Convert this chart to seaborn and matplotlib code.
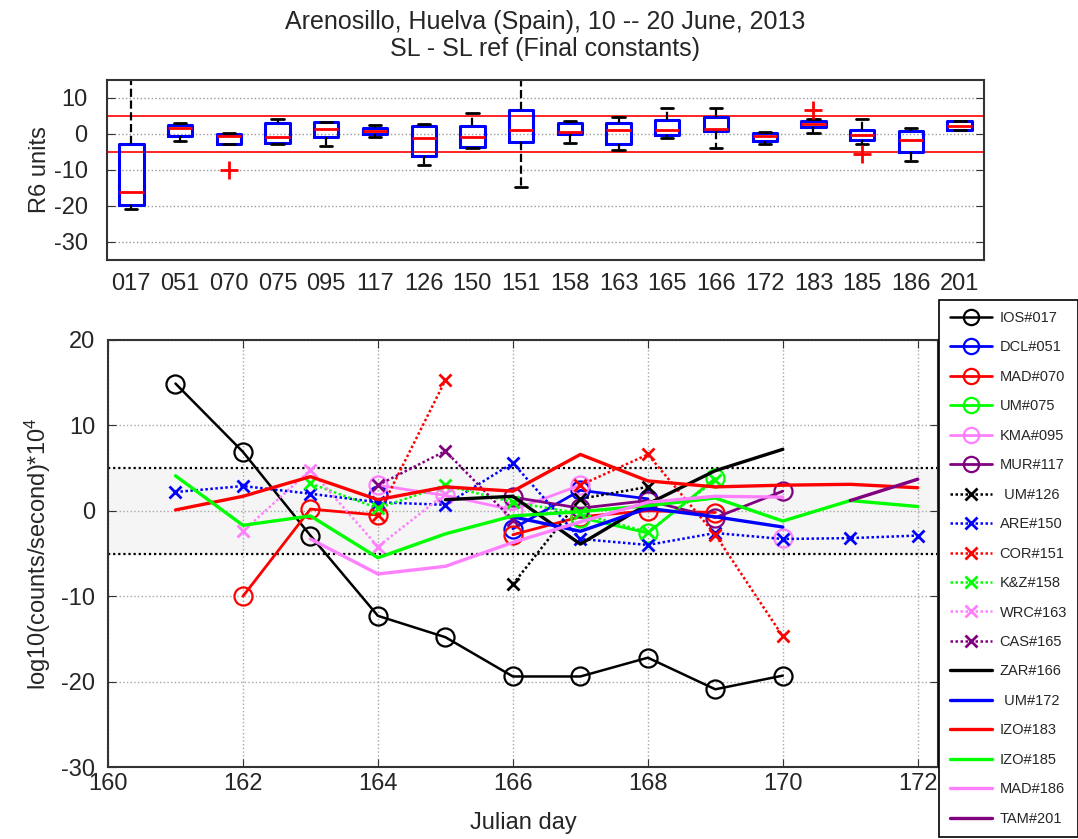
import numpy as np
import pandas as pd
import matplotlib
matplotlib.use("Agg")
import matplotlib.pyplot as plt
import seaborn as sns

# ---------------- data: top box plot ----------------
codes = ['017', '051', '070', '075', '095', '117', '126', '150', '151',
         '158', '163', '165', '166', '172', '183', '185', '186', '201']
box_q1 = [-19.6, -0.5, -2.7, -2.5, -0.8, 0.1, -6.1, -3.6, -2.1,
          0.1, -2.8, -0.3, 0.8, -2.0, 2.0, -1.6, -4.9, 1.0]
box_med = [-16.1, 1.6, -0.6, -0.7, 1.4, 0.9, -1.1, -0.8, 1.2,
           0.5, 1.0, 1.2, 1.4, -0.6, 2.9, -0.4, -1.8, 2.2]
box_q3 = [-2.9, 2.4, 0.1, 3.0, 3.2, 1.8, 2.1, 2.2, 6.6,
          3.1, 3.1, 3.9, 4.6, 0.4, 3.5, 1.0, 0.7, 3.5]
box_lo = [-20.8, -2.0, -2.9, -2.9, -3.3, -0.8, -8.7, -4.0, -14.6,
          -2.5, -4.4, -1.1, -4.0, -2.7, 0.3, -2.9, -7.5, 1.0]
box_hi = [22.0, 3.0, 0.3, 4.1, 3.2, 2.6, 2.9, 5.9, 22.0,
          3.6, 4.7, 7.2, 7.2, 0.6, 4.1, 4.1, 1.7, 3.5]
box_fliers = {'070': [-10.0], '183': [6.6], '185': [-5.5]}

# ---------------- data: bottom time series ----------------
nan = np.nan
days = [161, 162, 163, 164, 165, 166, 167, 168, 169, 170, 171, 172]
IOS017 = [14.9, 6.9, -2.9, -12.3, -14.8, -19.4, -19.4, -17.2, -20.9, -19.3, nan, nan]
DCL051 = [nan, nan, nan, 1.8, nan, -2.1, 2.4, 1.4, nan, nan, nan, nan]
MAD070 = [nan, -10.0, 0.2, -0.5, nan, -2.8, -0.7, 0.0, -0.2, nan, nan, nan]
UM075 = [nan, nan, nan, nan, nan, nan, -0.8, -2.6, 3.8, nan, nan, nan]
KMA095 = [nan, nan, nan, 3.0, 1.8, 0.1, 3.0, nan, nan, -3.2, nan, nan]
MUR117 = [nan, nan, nan, nan, nan, 1.6, 0.3, 1.2, -0.8, 2.3, nan, nan]
UM126 = [nan, nan, nan, nan, nan, -8.6, 1.4, 2.8, nan, nan, nan, nan]
ARE150 = [2.2, 2.9, 2.0, 1.0, 0.7, 5.6, -3.3, -4.0, -2.6, -3.3, -3.2, -2.9]
COR151 = [nan, nan, nan, -0.5, 15.3, nan, 3.0, 6.6, -2.8, -14.7, nan, nan]
KZ158 = [nan, nan, 3.2, 0.3, 3.0, 1.0, -0.3, -2.5, 3.6, nan, nan, nan]
WRC163 = [nan, -2.4, 4.8, -4.2, 2.0, nan, nan, nan, nan, nan, nan, nan]
CAS165 = [nan, nan, nan, 3.0, 7.0, -1.1, nan, nan, nan, nan, nan, nan]
ZAR166 = [nan, nan, nan, nan, 1.3, 1.7, -3.9, 0.8, 4.7, 7.2, nan, nan]
UM172 = [nan, nan, nan, nan, nan, -0.7, -2.4, 0.3, -0.7, -1.9, nan, nan]
IZO183 = [0.1, 1.7, 4.0, 1.3, 2.8, 2.3, 6.6, 3.5, 2.8, 3.0, 3.1, 2.7]
IZO185 = [4.1, -1.7, -0.6, -5.5, -2.7, -0.6, -0.1, 0.6, 1.5, -1.2, 1.2, 0.5]
MAD186 = [nan, nan, -3.3, -7.4, -6.5, -3.7, -1.3, 1.0, 1.7, 1.6, nan, nan]
TAM201 = [nan, nan, nan, nan, nan, nan, nan, nan, nan, nan, 1.2, 3.7]

BLACK, BLUE, RED, GREEN, PINK, PURPLE = 'black', '#0000ff', '#ff0000', '#00ff00', '#ff80ff', '#800080'

series = [
    ('IOS#017', IOS017, BLACK, 'circ'),
    ('DCL#051', DCL051, BLUE, 'circ'),
    ('MAD#070', MAD070, RED, 'circ'),
    ('UM#075', UM075, GREEN, 'circ'),
    ('KMA#095', KMA095, PINK, 'circ'),
    ('MUR#117', MUR117, PURPLE, 'circ'),
    (' UM#126', UM126, BLACK, 'x'),
    ('ARE#150', ARE150, BLUE, 'x'),
    ('COR#151', COR151, RED, 'x'),
    ('K&Z#158', KZ158, GREEN, 'x'),
    ('WRC#163', WRC163, PINK, 'x'),
    ('CAS#165', CAS165, PURPLE, 'x'),
    ('ZAR#166', ZAR166, BLACK, 'line'),
    (' UM#172', UM172, BLUE, 'line'),
    ('IZO#183', IZO183, RED, 'line'),
    ('IZO#185', IZO185, GREEN, 'line'),
    ('MAD#186', MAD186, PINK, 'line'),
    ('TAM#201', TAM201, PURPLE, 'line'),
]

# ---------------- style ----------------
sns.set_style("white")
plt.rcParams['font.family'] = ['Liberation Sans', 'DejaVu Sans']
plt.rcParams['mathtext.fontset'] = 'custom'
plt.rcParams['mathtext.rm'] = 'Liberation Sans'
plt.rcParams['mathtext.it'] = 'Liberation Sans'
plt.rcParams['axes.unicode_minus'] = False

fig = plt.figure(figsize=(10.78, 8.39), dpi=100)
ax1 = fig.add_axes([107 / 1078, 1 - 260 / 839, 877 / 1078, 180 / 839])
ax2 = fig.add_axes([108 / 1078, 1 - 767 / 839, 830 / 1078, 427 / 839])

FRAME = '#333333'

# ---------------- top: box plot ----------------
stats = []
for i, c in enumerate(codes):
    stats.append(dict(label=c, q1=box_q1[i], med=box_med[i], q3=box_q3[i],
                      whislo=box_lo[i], whishi=box_hi[i],
                      fliers=box_fliers.get(c, [])))
ax1.bxp(stats, positions=range(1, len(codes) + 1), widths=0.5, capwidths=0.25,
        boxprops=dict(color=BLUE, lw=2.2),
        medianprops=dict(color=RED, lw=2),
        whiskerprops=dict(color='black', lw=1.6, ls='--'),
        capprops=dict(color='black', lw=2),
        flierprops=dict(marker='+', markeredgecolor=RED, markersize=13, mew=2, linestyle='none'))
ax1.axhline(5, color=RED, lw=1.2, zorder=1)
ax1.axhline(-5, color=RED, lw=1.2, zorder=1)
ax1.set_xlim(0.5, len(codes) + 0.5)
ax1.set_ylim(-35, 15)
ax1.set_yticks([-30, -20, -10, 0, 10])
ax1.set_xticks(range(1, len(codes) + 1))
ax1.set_xticklabels(codes)
ax1.yaxis.grid(True, ls=':', color='0.6', lw=1)
ax1.xaxis.grid(False)
ax1.set_axisbelow(True)
ax1.tick_params(axis='x', length=0, labelsize=17, pad=9)
ax1.tick_params(axis='y', direction='in', left=True, right=True, length=6,
                labelsize=17, pad=14, color=FRAME)
for s in ax1.spines.values():
    s.set_color(FRAME)
    s.set_linewidth(1.5)
ax1.set_ylabel('R6 units', fontsize=17)
ax1.yaxis.set_label_coords(-0.064, 0.5)
ax1.set_title('Arenosillo, Huelva (Spain), 10 -- 20 June, 2013\nSL - SL ref (Final constants)',
              fontsize=18, pad=17, linespacing=1.2)

# ---------------- bottom: time series ----------------
ax2.axhspan(-5, 5, color='#f5f5f5', zorder=0)
ax2.axhline(5, color='black', ls=(0, (1, 1.3)), lw=1.6, zorder=1)
ax2.axhline(-5, color='black', ls=(0, (1, 1.3)), lw=1.6, zorder=1)

d = np.array(days, dtype=float)
for label, vals, color, kind in series:
    v = np.array(vals, dtype=float)
    ok = ~np.isnan(v)
    runs, cur = [], []
    for i in range(len(v)):
        if ok[i]:
            cur.append(i)
        elif cur:
            runs.append(cur)
            cur = []
    if cur:
        runs.append(cur)
    if kind == 'circ':
        kw = dict(linestyle='-', lw=2 if color != BLACK else 1.8, marker='o', markersize=13,
                  markerfacecolor='none', markeredgecolor=color, markeredgewidth=1.6)
    elif kind == 'x':
        kw = dict(linestyle=(0, (1, 1)), lw=1.8, marker='x', markersize=9,
                  markerfacecolor='none', markeredgecolor=color, markeredgewidth=2)
    else:
        kw = dict(linestyle='-', lw=2.4, marker=None)
    for k, r in enumerate(runs):
        sns.lineplot(x=d[r], y=v[r], ax=ax2, color=color, errorbar=None, legend=False,
                     label=label if k == 0 else '_nolegend_', zorder=3, **kw)

ax2.set_xlim(160, 172.3)
ax2.set_ylim(-30, 20)
ax2.set_xticks([160, 162, 164, 166, 168, 170, 172])
ax2.set_yticks([-30, -20, -10, 0, 10, 20])
ax2.grid(True, ls=':', color='0.65', lw=1)
ax2.set_axisbelow(True)
ax2.tick_params(axis='both', direction='in', top=True, right=True, bottom=True, left=True,
                length=6, labelsize=17, color=FRAME)
ax2.tick_params(axis='x', pad=4)
ax2.tick_params(axis='y', pad=9)
for s in ax2.spines.values():
    s.set_color(FRAME)
    s.set_linewidth(1.5)
ax2.set_xlabel('Julian day', fontsize=17)
ax2.xaxis.set_label_coords(0.5, -0.105)
ax2.set_ylabel('log10(counts/second)*10$^4$', fontsize=17)
ax2.yaxis.set_label_coords(-0.066, 0.5)

handles, labels = ax2.get_legend_handles_labels()
leg = fig.legend(handles, labels, loc='upper left', bbox_to_anchor=(939 / 1078, 1 - 300 / 839),
                 frameon=True, fancybox=False, edgecolor='black', framealpha=1,
                 fontsize=10.5, numpoints=1, handlelength=2.9, handletextpad=0.5,
                 labelspacing=1.06, borderpad=0.75, borderaxespad=0)
leg.get_frame().set_linewidth(1.2)
for h in leg.legend_handles:
    try:
        if h.get_marker() == 'o':
            h.set_markersize(11)
    except Exception:
        pass

fig.savefig('out.png', dpi=100)
